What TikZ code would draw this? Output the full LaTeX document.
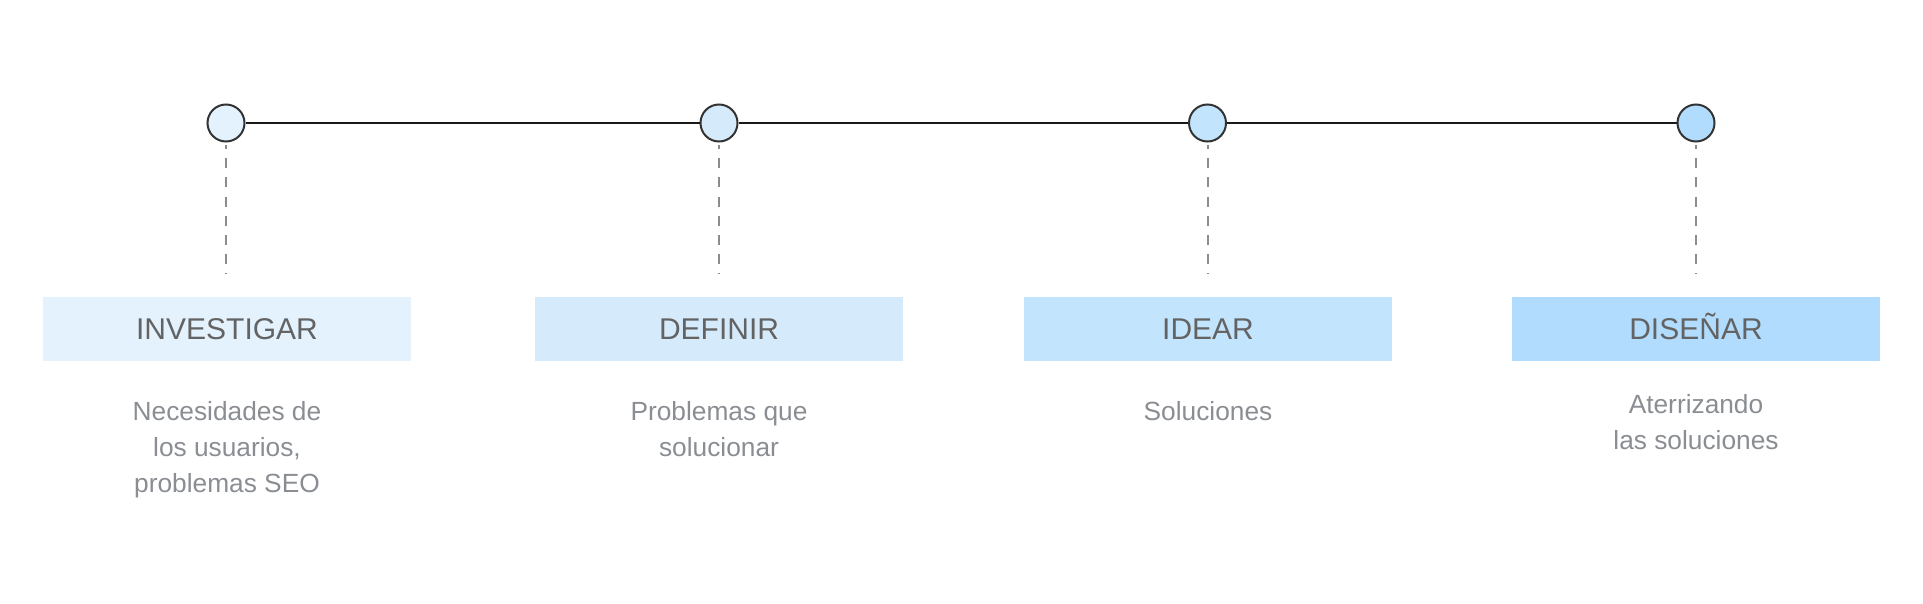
\documentclass[tikz,border=0pt]{standalone}
\usepackage{fontspec}
\setmainfont{Liberation Sans}
\definecolor{titlegray}{HTML}{636363}
\definecolor{descgray}{HTML}{8A8E93}
\definecolor{ringgray}{HTML}{333333}
\definecolor{dashgray}{HTML}{8C8C8C}
\definecolor{fillA}{HTML}{E3F2FD}
\definecolor{fillB}{HTML}{D5EBFC}
\definecolor{fillC}{HTML}{C3E4FD}
\definecolor{fillD}{HTML}{B1DCFD}
\tikzset{
  milestone/.style={circle, draw=ringgray, line width=2pt, minimum size=37pt, inner sep=0pt},
  phasebox/.style={rectangle, minimum width=368pt, minimum height=64pt, inner sep=0pt,
    text=titlegray, font=\fontsize{30}{36}\selectfont, text height=21.5pt, text depth=0pt},
  desc/.style={align=center, text=descgray, font=\fontsize{26.3}{36}\selectfont, inner sep=0pt, anchor=base},
  timeline/.style={line width=1.4pt, draw=black!90},
  guide/.style={line width=2pt, draw=dashgray, dash pattern=on 10pt off 9.2pt, dash phase=6pt}
}
\begin{document}
\begin{tikzpicture}[x=1pt,y=-1pt]
\useasboundingbox (0,0) rectangle (1923,604);
% milestones
\node[milestone, fill=fillA] (c1) at (226,123) {};
\node[milestone, fill=fillB] (c2) at (719,123) {};
\node[milestone, fill=fillC] (c3) at (1207.5,123) {};
\node[milestone, fill=fillD] (c4) at (1696,123) {};
\draw[timeline] (c1) -- (c2);
\draw[timeline] (c2) -- (c3);
\draw[timeline] (c3) -- (c4);
% phase boxes
\node[phasebox, fill=fillA] (b1) at (227,328.7) {INVESTIGAR};
\node[phasebox, fill=fillB] (b2) at (719,328.7) {DEFINIR};
\node[phasebox, fill=fillC] (b3) at (1208,328.7) {IDEAR};
\node[phasebox, fill=fillD] (b4) at (1696,328.7) {DISEÑAR};
% dashed guides
\draw[guide] ([yshift=-2.5pt]c1.south) -- ([yshift=22.7pt]b1.north -| c1.south);
\draw[guide] ([yshift=-2.5pt]c2.south) -- ([yshift=22.7pt]b2.north -| c2.south);
\draw[guide] ([yshift=-2.5pt]c3.south) -- ([yshift=22.7pt]b3.north -| c3.south);
\draw[guide] ([yshift=-2.5pt]c4.south) -- ([yshift=22.7pt]b4.north -| c4.south);
% descriptions (anchor = baseline of last line)
\node[desc] (d1) at (227,492.7) {Necesidades de\\los usuarios,\\ problemas SEO};
\node[desc] (d2) at (719,456.7) {Problemas que\\solucionar};
\node[desc] (d3) at (1208,420) {Soluciones};
\node[desc] (d4) at (1696,449) {Aterrizando\\las soluciones};
\end{tikzpicture}
\end{document}
